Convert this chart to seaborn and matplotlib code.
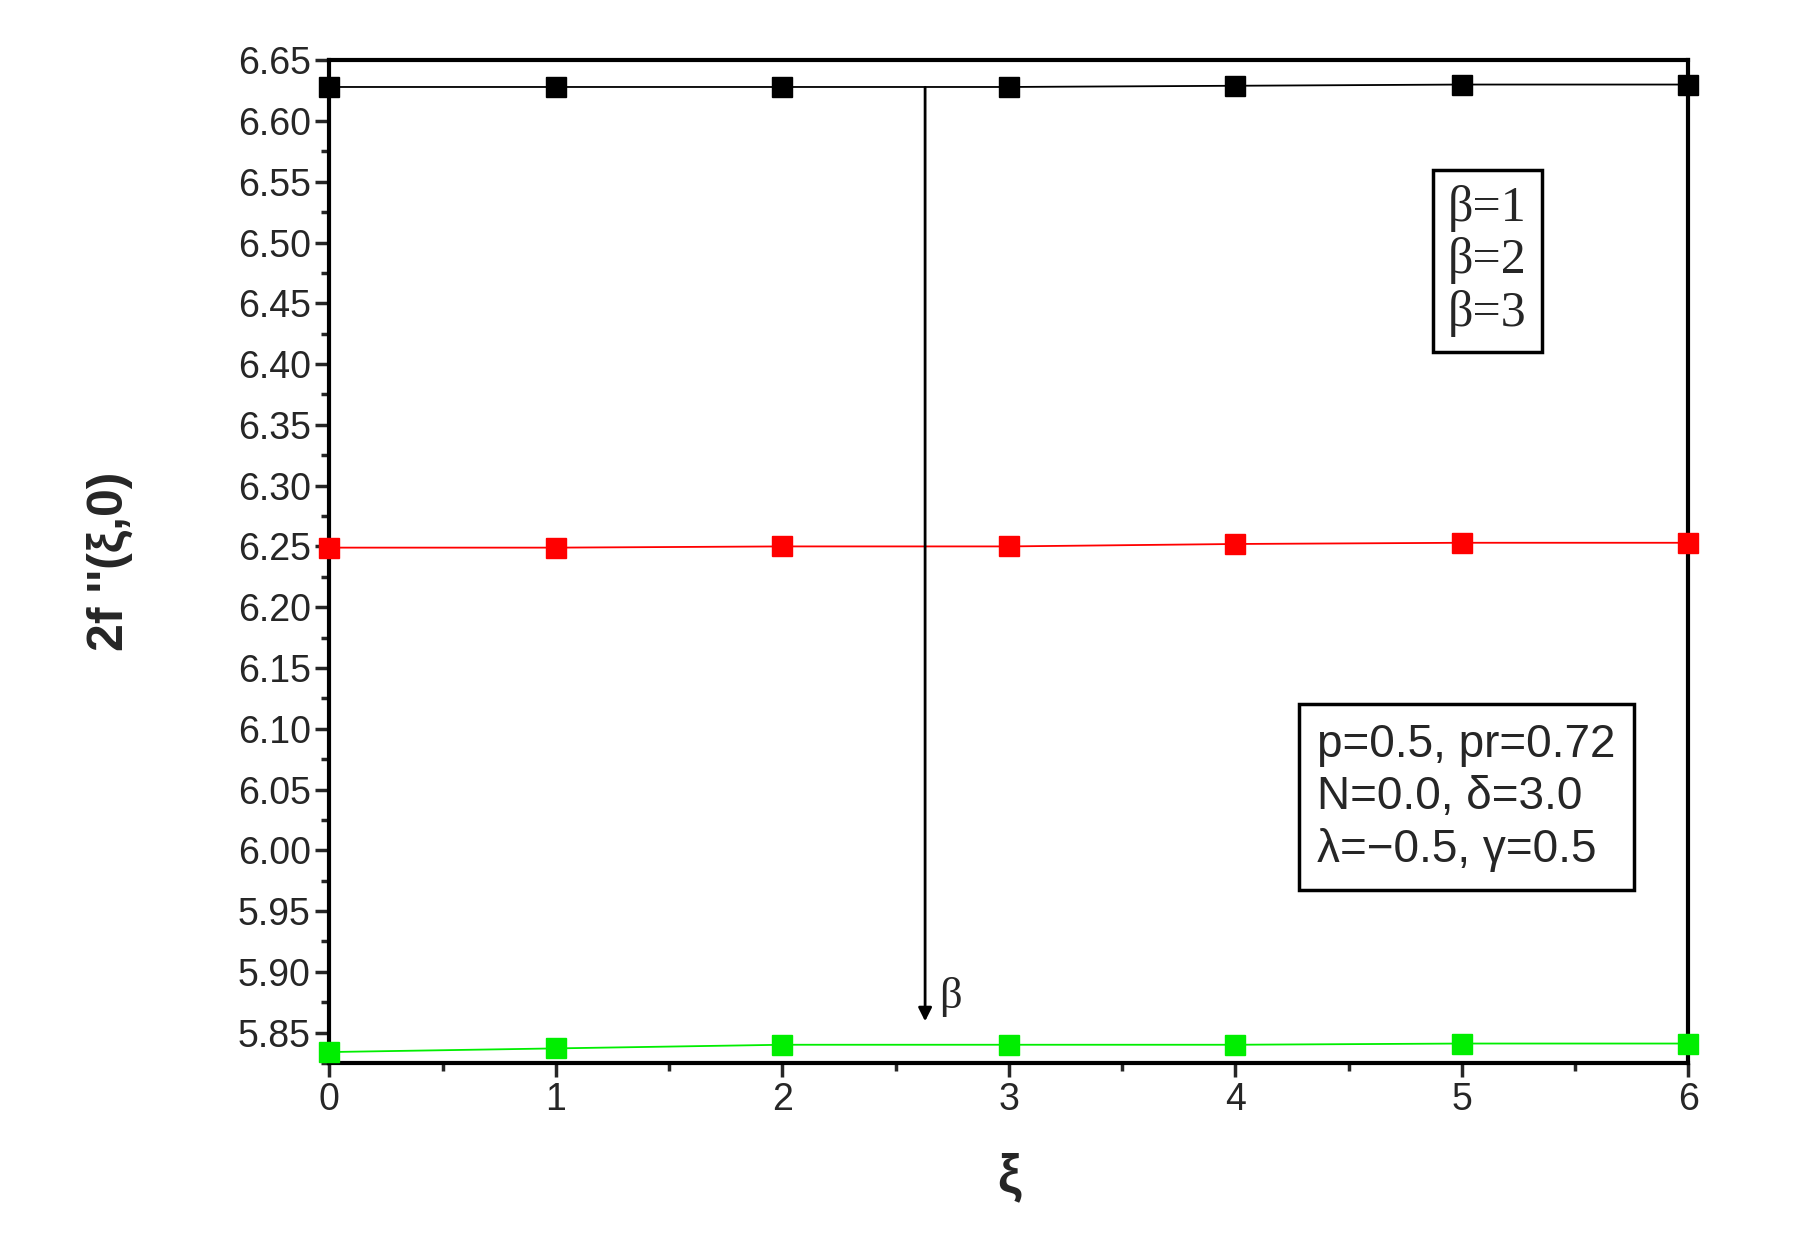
import numpy as np
import pandas as pd
import seaborn as sns
import matplotlib.pyplot as plt
from matplotlib.ticker import MultipleLocator

xi = [0, 1, 2, 3, 4, 5, 6]
beta1 = [6.628, 6.628, 6.628, 6.628, 6.629, 6.630, 6.630]
beta2 = [6.249, 6.249, 6.250, 6.250, 6.252, 6.253, 6.253]
beta3 = [5.834, 5.837, 5.840, 5.840, 5.840, 5.841, 5.841]
labels = ["β=1", "β=2", "β=3"]
colors = ["black", "red", "#00ee00"]

df = pd.concat([pd.DataFrame({"xi": xi, "val": v, "beta": l})
                for v, l in zip([beta1, beta2, beta3], labels)])

sns.set_style("white")
plt.rcParams["font.family"] = ["Liberation Sans", "DejaVu Sans"]

fig = plt.figure(figsize=(18, 12.55), dpi=100)
ax = fig.add_axes([0.183, 0.153, 0.755, 0.799])
sns.lineplot(data=df, x="xi", y="val", hue="beta", palette=colors, marker="s",
             markersize=15, markeredgewidth=0, linewidth=1.3, legend=False, ax=ax)
for c, y in zip(colors, [beta1, beta2, beta3]):
    ax.plot(xi, y, "s", color=c, markersize=15, clip_on=False, zorder=5)

ax.set_xlim(0, 6)
ax.set_ylim(5.825, 6.65)
ax.yaxis.set_major_locator(MultipleLocator(0.05))
ax.yaxis.set_minor_locator(MultipleLocator(0.025))
ax.xaxis.set_major_locator(MultipleLocator(1))
ax.xaxis.set_minor_locator(MultipleLocator(0.5))
ax.yaxis.set_major_formatter(plt.FormatStrFormatter("%.2f"))
for s in ax.spines.values():
    s.set_linewidth(3)
    s.set_color("black")
ax.tick_params(which="major", direction="out", length=10, width=2.5, labelsize=27)
ax.tick_params(which="minor", direction="out", length=6, width=2.5)
ax.tick_params(axis="both", which="both", left=True, bottom=True)

ax.set_xlabel("ξ", fontsize=38, fontweight="bold", labelpad=25)
ax.set_ylabel("2f ''(ξ,0)", fontsize=36, fontweight="bold", labelpad=75)

ax.annotate("", xy=(2.63, 5.857), xytext=(2.63, 6.63),
            arrowprops=dict(arrowstyle="-|>", color="black", lw=2, mutation_scale=20))
ax.text(2.69, 5.87, "β", fontsize=32, family="Liberation Serif")

ax.text(0.823, 0.80, "β=1\nβ=2\nβ=3", transform=ax.transAxes, fontsize=36,
        family="Liberation Serif", linespacing=1.15, va="center",
        bbox=dict(boxstyle="square,pad=0.3", fc="white", ec="black", lw=2.5))
ax.text(0.727, 0.265, "p=0.5, pr=0.72\nN=0.0, δ=3.0\nλ=−0.5, γ=0.5", transform=ax.transAxes,
        fontsize=33, linespacing=1.25, va="center",
        bbox=dict(boxstyle="square,pad=0.4", fc="white", ec="black", lw=2.5))

fig.savefig("out.png", dpi=100)
